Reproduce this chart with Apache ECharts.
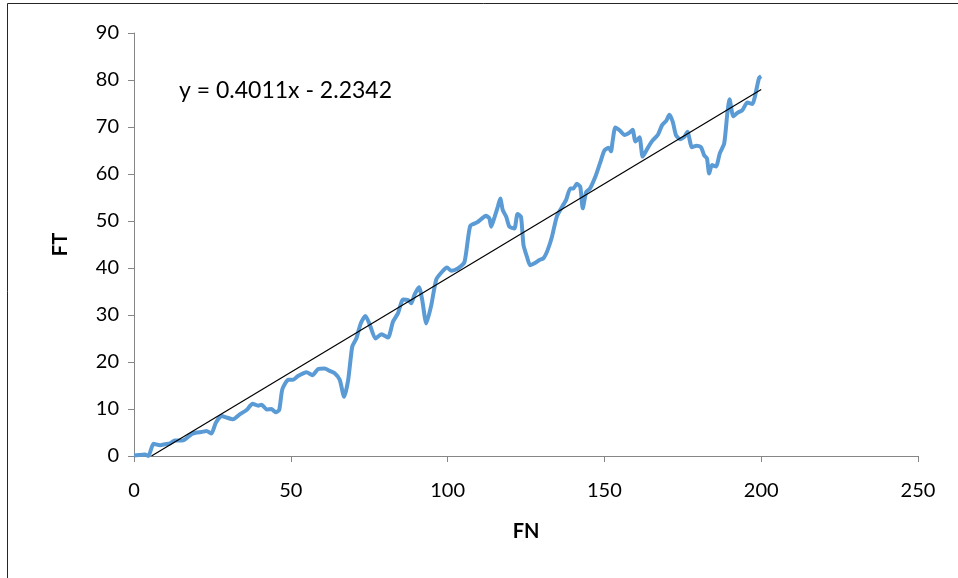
<!DOCTYPE html>
<html>
<head>
<meta charset="utf-8">
<script src="https://cdn.jsdelivr.net/npm/echarts@6/dist/echarts.min.js"></script>
<style>
  html, body { margin: 0; padding: 0; background: #fff; }
  #chart { width: 958px; height: 578px; }
</style>
</head>
<body>
<div id="chart"></div>
<script>
// FN (x) and FT (y) readings for the measured curve
const fnValues = [
  0, 1.5, 3.5, 4.6, 6.2, 8.3, 9.9, 11.5, 13, 15.2, 16.2, 18.4, 20, 21.5, 23.1, 24.7,
  26.1, 27.9, 29.5, 31.6, 33.8, 35.9, 37.8, 39.6, 40.7, 42.3, 43.8, 45.2, 46.3, 47.3,
  49.2, 50.7, 52.3, 55, 56.9, 58.7, 60.8, 62.4, 64, 65.6, 67, 68.3, 69.6, 70.9, 72.3,
  73.8, 75.2, 77, 78.9, 81, 82.6, 84.2, 85.8, 87.4, 88.4, 89.5, 90.9, 91.9, 93.2, 94.8,
  96.4, 98.5, 99.8, 101.2, 103.3, 105.4, 107.2, 109.4, 110.7, 112.2, 113.3, 113.9, 115,
  116, 116.8, 117.6, 118.7, 119.7, 121.3, 122.3, 123.4, 124.2, 125.3, 126.3, 127.7,
  129.3, 130.6, 131.9, 133.3, 134.8, 136.5, 137.8, 139.1, 140.1, 141.2, 142.3, 143.1,
  144.2, 145.4, 147.1, 148.6, 150, 151.4, 152.1, 152.6, 153.5, 155, 156.4, 158, 159,
  159.9, 161.2, 162.2, 163.8, 165.2, 167, 168.4, 169.7, 170.7, 171.8, 172.8, 174.1,
  175.5, 176.5, 177.9, 179.4, 180.8, 181.8, 182.7, 183.4, 184.3, 185.6, 186.8, 188.2,
  189.2, 189.9, 191.1, 192.4, 194, 195.6, 197.2, 198, 199.3, 200
];
const ftValues = [
  0.1, 0.2, 0.3, 0, 2.6, 2.3, 2.5, 2.7, 3.3, 3.3, 3.5, 4.7, 5.0, 5.1, 5.3, 4.8,
  7.1, 8.5, 8.2, 7.8, 8.9, 9.8, 11.1, 10.7, 10.9, 9.9, 10.0, 9.3, 9.8, 14.2,
  16.2, 16.2, 17.0, 17.8, 17.2, 18.5, 18.6, 18.1, 17.6, 16.2, 12.6, 16.2, 23.3, 25.0, 28.2,
  29.8, 27.9, 25.0, 25.9, 25.2, 28.6, 30.4, 33.3, 33.2, 32.5, 34.4, 35.9, 33.2, 28.2, 32.1,
  37.6, 39.4, 40.1, 39.4, 39.9, 41.3, 48.9, 49.7, 50.4, 51.1, 50.6, 48.8, 50.9,
  53.0, 54.8, 52.3, 50.9, 48.8, 48.4, 51.5, 50.9, 44.9, 42.4, 40.6, 41.0,
  41.7, 42.1, 43.8, 46.7, 50.9, 53.0, 54.5, 56.9, 56.9, 57.9, 57.3, 52.7,
  56.2, 56.9, 59.4, 62.3, 65.0, 65.6, 64.8, 66.9, 69.9, 69.2, 68.3, 68.8, 69.4,
  66.9, 67.8, 63.7, 65.5, 67.0, 68.3, 70.4, 71.3, 72.6, 71.1, 68.3, 67.4,
  67.9, 69.0, 65.7, 66.0, 65.7, 64.0, 63.3, 60.1, 61.9, 61.6, 64.4, 66.5,
  72.9, 75.9, 72.3, 73.0, 73.6, 75.2, 74.9, 76.5, 80.4, 80.8
];

// Linear trend: y = slope * x + intercept
const slope = 0.4011;
const intercept = -2.2342;
const trendRange = [-intercept / slope, 200];

const xTicks = [0, 50, 100, 150, 200, 250];
const yTicks = [0, 10, 20, 30, 40, 50, 60, 70, 80, 90];

const curve = fnValues.map((x, i) => [x, ftValues[i]]);
const trend = trendRange.map(x => [x, slope * x + intercept]);

const axisGray = '#868686';
const font = 'Lato, "Open Sans", sans-serif';

const chart = echarts.init(document.getElementById('chart'), null, { renderer: 'canvas' });
chart.setOption({
  animation: false,
  backgroundColor: '#ffffff',
  grid: { left: 134, top: 33, right: 40, bottom: 122, containLabel: false },
  xAxis: {
    type: 'value',
    min: xTicks[0], max: xTicks[xTicks.length - 1], interval: 50,
    name: 'FN', nameLocation: 'middle', nameGap: 66,
    nameTextStyle: { fontFamily: font, fontSize: 20, fontWeight: 'bold', color: '#000' },
    axisLine: { show: true, onZero: false, lineStyle: { color: axisGray, width: 1 } },
    axisTick: { show: true, inside: false, length: 6, lineStyle: { color: axisGray } },
    axisLabel: { margin: 25, fontFamily: font, fontSize: 20, color: '#000' },
    splitLine: { show: false }
  },
  yAxis: {
    type: 'value',
    min: yTicks[0], max: yTicks[yTicks.length - 1], interval: 10,
    name: 'FT', nameLocation: 'middle', nameGap: 63, nameRotate: 90,
    nameTextStyle: { fontFamily: font, fontSize: 20, fontWeight: 'bold', color: '#000' },
    axisLine: { show: true, onZero: false, lineStyle: { color: axisGray, width: 1 } },
    axisTick: { show: true, inside: false, length: 6, lineStyle: { color: axisGray } },
    axisLabel: { margin: 15, fontFamily: font, fontSize: 20, color: '#000' },
    splitLine: { show: false }
  },
  series: [
    {
      name: 'FT',
      type: 'line',
      data: curve,
      showSymbol: false,
      smooth: 0.2,
      lineStyle: { color: '#5B9BD5', width: 4 },
      z: 2
    },
    {
      name: 'Linear (FT)',
      type: 'line',
      data: trend,
      showSymbol: false,
      lineStyle: { color: '#000000', width: 1.2 },
      z: 3
    }
  ],
  graphic: [
    {
      type: 'rect',
      shape: { x: 7.5, y: 3.5, width: 1000, height: 700 },
      style: { fill: 'none', stroke: '#262626', lineWidth: 1 },
      silent: true,
      z: 0
    },
    {
      type: 'text',
      left: 179, top: 79,
      style: {
        text: 'y = 0.4011x - 2.2342',
        fontFamily: font, fontSize: 23, fill: '#000'
      }
    }
  ]
});
</script>
</body>
</html>
